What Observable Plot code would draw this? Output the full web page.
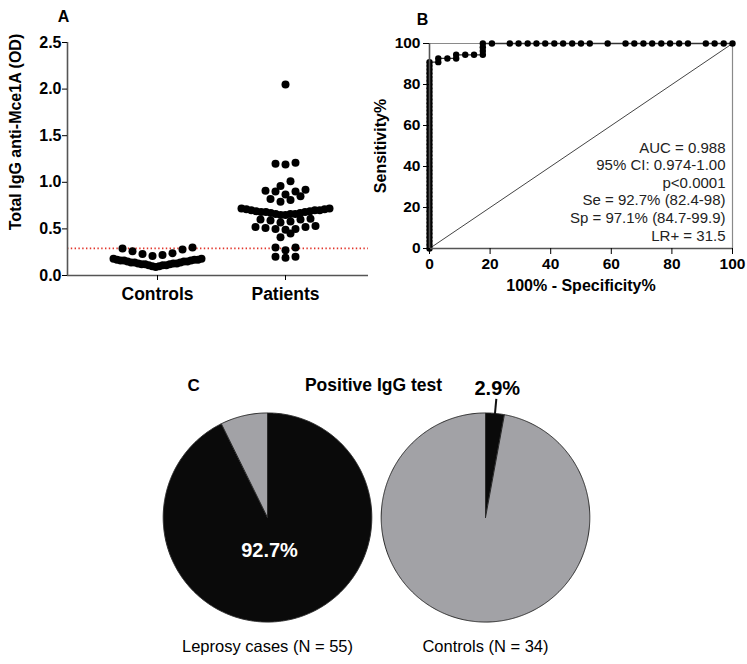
<!DOCTYPE html>
<html><head><meta charset="utf-8">
<script src="https://cdn.jsdelivr.net/npm/d3@7"></script>
<script src="https://cdn.jsdelivr.net/npm/@observablehq/plot@0.6"></script>
<style>
html,body{margin:0;padding:0;background:#fff;}
#root{position:relative;width:747px;height:664px;overflow:hidden;background:#fff;}
#root > svg{position:absolute;overflow:visible;}
</style></head><body><div id="root"></div>
<script>
// ---------- Panel A data ----------
const groupsA = ["Controls", "Patients"];
const controlsOD = [0.30, 0.28, 0.26, 0.29, 0.23, 0.24, 0.21, 0.22,
  0.18, 0.17, 0.17, 0.16, 0.16, 0.15, 0.15, 0.14, 0.14, 0.13, 0.13, 0.12, 0.12,
  0.11, 0.11, 0.10, 0.10, 0.09, 0.12, 0.13, 0.14, 0.15, 0.16, 0.17, 0.18, 0.11];
const patientsOD = [2.05, 1.21, 1.19, 1.20, 1.01, 0.96, 0.91, 0.92, 0.90, 0.87, 0.90, 0.82, 0.79, 0.81, 0.85,
  0.65, 0.65, 0.66, 0.66, 0.67, 0.67, 0.68, 0.68, 0.69, 0.69, 0.70, 0.70, 0.71, 0.71, 0.72, 0.72, 0.66, 0.68, 0.70,
  0.60, 0.58, 0.59, 0.57, 0.61, 0.60, 0.52, 0.50, 0.49, 0.51, 0.53, 0.50, 0.52, 0.45, 0.41, 0.30, 0.30, 0.27, 0.20, 0.19, 0.20];
const cutoffOD = 0.29;
const yTicksA = [0, 0.5, 1.0, 1.5, 2.0, 2.5];
const yLabelA = "Total IgG anti-Mce1A (OD)";

// ---------- Panel B data ----------
const rocFpr = [0,0,0,0,0,0,0,0,0,0,0,0,0,0,0,0,0,0,0,0,0,0,0,0,0,0,0,0,0,0,0,0,0,0,0,0,0,0,0,0,0,0,0,0,0,0,0,0,0,0,0,
  2.9, 2.9, 5.9, 8.8, 8.8, 11.8, 14.7, 17.6, 17.6, 17.6, 17.6, 20.6, 26.5, 29.4, 32.4, 35.3, 38.2, 41.2, 44.1, 47.1,
  50.0, 52.9, 58.8, 64.7, 67.6, 70.6, 73.5, 76.5, 79.4, 82.4, 85.3, 91.2, 94.1, 97.1, 100];
const rocSens = [0, 1.8, 3.6, 5.5, 7.3, 9.1, 10.9, 12.7, 14.5, 16.4, 18.2, 20, 21.8, 23.6, 25.5, 27.3, 29.1, 30.9, 32.7, 34.5,
  36.4, 38.2, 40, 41.8, 43.6, 45.5, 47.3, 49.1, 50.9, 52.7, 54.5, 56.4, 58.2, 60, 61.8, 63.6, 65.5, 67.3, 69.1, 70.9,
  72.7, 74.5, 76.4, 78.2, 80, 81.8, 83.6, 85.5, 87.3, 89.1, 90.9,
  90.9, 92.7, 92.7, 92.7, 94.5, 94.5, 94.5, 94.5, 96.4, 98.2, 100, 100, 100, 100, 100, 100, 100, 100, 100, 100,
  100, 100, 100, 100, 100, 100, 100, 100, 100, 100, 100, 100, 100, 100, 100];
const rocTicks = [0, 20, 40, 60, 80, 100];
const chanceLine = [0, 100];
const rocStats = ["AUC = 0.988", "95% CI: 0.974-1.00", "p<0.0001", "Se = 92.7% (82.4-98)", "Sp = 97.1% (84.7-99.9)", "LR+ = 31.5"];
const xLabelB = "100% - Specificity%";
const yLabelB = "Sensitivity%";

// ---------- Panel C data ----------
const pieGroups = ["Leprosy cases", "Controls"];
const pieN = [55, 34];
const positivePct = [92.7, 2.9];
const pieStatus = ["Positive", "Negative"];
const pieTitle = "Positive IgG test";

const FONT = "'Liberation Sans', Arial, Helvetica, sans-serif";
const root = document.getElementById("root");
function place(svg, left, top) { svg.style.left = left + "px"; svg.style.top = top + "px"; root.appendChild(svg); }

// ================= Panel A =================
const A = {width: 375, height: 305, mL: 67, mR: 7, mT: 42, mB: 30};
const pxPerCat = 128;
const xDomA = [-(90) / pxPerCat, 1 + 83 / pxPerCat];
// column-scatter layout: values are grouped into rows, spread sideways, compressed when a row is crowded
function rowSwarm(values, rowSpan, maxW, step) {
  const order = d3.range(values.length).sort((a, b) => values[a] - values[b]);
  const out = new Array(values.length);
  let k = 0;
  while (k < order.length) {
    const start = values[order[k]];
    const row = [];
    while (k < order.length && values[order[k]] < start + rowSpan - 1e-9) row.push(order[k++]);
    const n = row.length, s = n > 1 ? Math.min(step, maxW / (n - 1)) : 0;
    const slots = d3.range(n).map(j => (j - (n - 1) / 2) * s).sort((a, b) => Math.abs(a) - Math.abs(b) || a - b);
    row.forEach((idx, j) => out[idx] = slots[j]);
  }
  return out;
}
const rowSpans = [0.11, 0.075];
const dataA = [];
[controlsOD, patientsOD].forEach((vals, gi) => {
  const off = rowSwarm(vals, rowSpans[gi], 88, 10);
  vals.forEach((v, i) => dataA.push({group: groupsA[gi], value: v, x: gi + off[i] / pxPerCat}));
});

const plotA = Plot.plot({
  width: A.width, height: A.height,
  marginLeft: A.mL, marginRight: A.mR, marginTop: A.mT, marginBottom: A.mB,
  style: {fontFamily: FONT, color: "#000", background: "transparent"},
  x: {domain: xDomA, axis: null},
  y: {domain: [0, 2.5], axis: null},
  marks: [
    Plot.ruleY([cutoffOD], {stroke: "#e2352b", strokeWidth: 1.7, strokeDasharray: "1.4,2.4"}),
    Plot.ruleY([0], {stroke: "#555", strokeWidth: 1.6}),
    Plot.ruleX([xDomA[0]], {stroke: "#555", strokeWidth: 1.6}),
    Plot.axisY({ticks: yTicksA, tickFormat: d3.format(".1f"), tickSize: 5, tickPadding: 1, fontSize: 16, fontWeight: "bold", label: null}),
    Plot.axisX({ticks: [0, 1], tickFormat: i => groupsA[i], tickSize: 5, tickPadding: 7, fontSize: 17.5, fontWeight: "bold", label: null}),
    Plot.dot(dataA, {x: "x", y: "value", r: 4, fill: "#000"}),
    Plot.text([yLabelA], {frameAnchor: "left", textAnchor: "middle", rotate: -90, dx: -52, dy: -27, fontSize: 16, fontWeight: "bold"}),
    Plot.text(["A"], {frameAnchor: "top-left", textAnchor: "middle", dx: -4, dy: -21, lineAnchor: "bottom", fontSize: 16, fontWeight: "bold"})
  ]
});
place(plotA, 0, 0);

// ================= Panel B =================
const rocIdx = d3.range(rocFpr.length);
const plotB = Plot.plot({
  width: 377, height: 300, marginLeft: 59, marginRight: 15, marginTop: 43, marginBottom: 52,
  style: {fontFamily: FONT, color: "#000", background: "transparent"},
  x: {domain: [0, 100], axis: null},
  y: {domain: [0, 100], axis: null},
  marks: [
    Plot.ruleY([100], {stroke: "#8a8a8a", strokeWidth: 1.2}),
    Plot.ruleX([100], {stroke: "#8a8a8a", strokeWidth: 1.2}),
    Plot.line(chanceLine, {x: d => d, y: d => d, stroke: "#444", strokeWidth: 1}),
    Plot.line(rocIdx, {x: i => rocFpr[i], y: i => rocSens[i], stroke: "#333", strokeWidth: 1.3}),
    Plot.dot(rocIdx, {x: i => rocFpr[i], y: i => rocSens[i], r: 3.2, fill: "#000"}),
    Plot.ruleX([0], {stroke: "#555", strokeWidth: 1.6}),
    Plot.ruleY([0], {stroke: "#555", strokeWidth: 1.6}),
    Plot.axisX({ticks: rocTicks, tickSize: 6, tickPadding: 3, fontSize: 15.5, fontWeight: "bold", label: null}),
    Plot.axisY({ticks: rocTicks, tickSize: 6, tickPadding: 3, fontSize: 15.5, fontWeight: "bold", label: null}),
    Plot.text([xLabelB], {frameAnchor: "bottom", dy: 42, fontSize: 16, fontWeight: "bold"}),
    Plot.text([yLabelB], {frameAnchor: "left", textAnchor: "middle", rotate: -90, dx: -49, fontSize: 16, fontWeight: "bold"}),
    Plot.text([rocStats.join("\n")], {frameAnchor: "bottom-right", textAnchor: "end", lineAnchor: "bottom", dx: -7, dy: -8, fontSize: 15, lineHeight: 1.17, fill: "#222"}),
    Plot.text(["B"], {frameAnchor: "top-left", textAnchor: "middle", dx: -7, dy: -19, lineAnchor: "bottom", fontSize: 16, fontWeight: "bold"})
  ]
});
place(plotB, 370, 0);

// ================= Panel C =================
const pieRows = [];
const pieArcs = pieGroups.map((g, gi) => d3.pie().sort(null)([positivePct[gi], 100 - positivePct[gi]]));
pieGroups.forEach((g, gi) => {
  pieArcs[gi].forEach((a, si) => {
    const id = g + "-" + pieStatus[si];
    const status = pieStatus[si];
    pieRows.push({g, status, id, px: 0, py: 0});
    const n = Math.max(2, Math.ceil((a.endAngle - a.startAngle) / 0.01));
    for (let k = 0; k <= n; k++) {
      const t = a.startAngle + (a.endAngle - a.startAngle) * k / n;
      pieRows.push({g, status, id, px: Math.sin(t), py: Math.cos(t)});
    }
    pieRows.push({g, status, id, px: 0, py: 0});
  });
});
const ctrlPos = pieArcs[1][0];
const ctrlMid = (ctrlPos.startAngle + ctrlPos.endAngle) / 2;
const pieLabel = g => `${g} (N = ${pieN[pieGroups.indexOf(g)]})`;

const plotC = Plot.plot({
  width: 747, height: 304, marginLeft: 157.25, marginRight: 152.75, marginTop: 47.75, marginBottom: 37.75,
  style: {fontFamily: FONT, color: "#000", background: "transparent"},
  fx: {domain: pieGroups, padding: 0},
  x: {domain: [-1.045, 1.045], axis: null},
  y: {domain: [-1.045, 1.045], axis: null},
  color: {domain: pieStatus, range: ["#0a0a0a", "#a2a2a6"]},
  marks: [
    Plot.line(pieRows, {fx: "g", x: "px", y: "py", z: "id", fill: "status", stroke: "#2a2a2a", strokeWidth: 1}),
    Plot.axisFx({anchor: "bottom", tickSize: 0, tickPadding: 14, tickFormat: pieLabel, fontSize: 16.5, label: null}),
    Plot.link([pieGroups[1]], {fx: d => d,
      x1: () => Math.sin(ctrlMid) * 0.99, y1: () => Math.cos(ctrlMid) * 0.99,
      x2: () => Math.sin(ctrlMid) * 1.14, y2: () => Math.cos(ctrlMid) * 1.14,
      stroke: "#111", strokeWidth: 2}),
    Plot.text([pieGroups[1]], {fx: d => d, x: () => Math.sin(ctrlMid) * 1.24, y: () => Math.cos(ctrlMid) * 1.24,
      text: () => positivePct[1] + "%", fontSize: 20, fontWeight: "bold"}),
    Plot.text([pieGroups[0]], {fx: d => d, frameAnchor: "middle", dx: 2, dy: 33,
      text: () => positivePct[0] + "%", fill: "white", fontSize: 20, fontWeight: "bold"}),
    Plot.text([pieGroups[0]], {fx: d => d, frameAnchor: "top-left", textAnchor: "start", dx: 29, dy: -17.75, lineAnchor: "bottom",
      text: () => "C", fontSize: 17, fontWeight: "bold"}),
    Plot.text([pieGroups[1]], {fx: d => d, frameAnchor: "top-left", textAnchor: "middle", dx: -3, dy: -17.75, lineAnchor: "bottom",
      text: () => pieTitle, fontSize: 17.5, fontWeight: "bold"})
  ]
});
place(plotC, 0, 360);
</script></body></html>
